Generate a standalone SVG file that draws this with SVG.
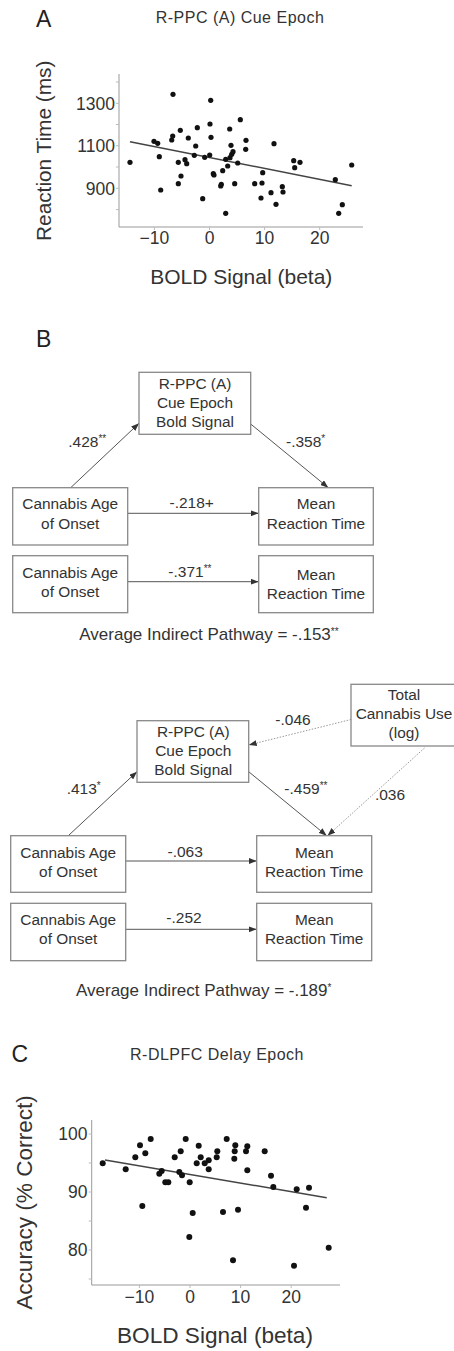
<svg xmlns="http://www.w3.org/2000/svg" width="454" height="1351" viewBox="0 0 454 1351">
<style>
text{font-family:"Liberation Sans",Arial,sans-serif;fill:#333}
.pl{font-size:23px;fill:#222}
.ti{font-size:16px;letter-spacing:0.5px;text-anchor:middle}
.tk{font-size:17.5px}
.ax{stroke:#999;stroke-width:1;fill:none}
.tm{stroke:#bbb;stroke-width:1}
.rl{stroke:#444;stroke-width:1.5;fill:none}
.d{fill:#111}
.box{fill:#fff;stroke:#888;stroke-width:1.3}
.bt{font-size:15.4px;text-anchor:middle}
.lb{font-size:15.5px}
.st{font-size:10px}
.ar{stroke:#555;stroke-width:1;fill:none}
.dt{stroke:#999;stroke-width:1;stroke-dasharray:1.5 1.5;fill:none}
.avg{font-size:17px}
</style>
<defs>
<marker id="ah" markerWidth="8" markerHeight="6" refX="8" refY="3" orient="auto" markerUnits="userSpaceOnUse"><path d="M0,0 L8,3 L0,6 z" fill="#333"/></marker>
</defs>

<!-- Panel A -->
<g id="panelA">
<text class="pl" x="36" y="26.7">A</text>
<text class="ti" x="240" y="23">R-PPC (A) Cue Epoch</text>
<path class="ax" d="M119,74 V227 H363"/>
<g class="tm">
<path d="M116,103.3 H119 M116,124.5 H119 M116,145.7 H119 M116,167 H119 M116,188.3 H119 M116,209.6 H119 M116,82 H119"/>
<path d="M154.4,227 V230 M209.5,227 V230 M264.6,227 V230 M319.7,227 V230"/>
</g>
<g class="tk" text-anchor="end">
<text x="115" y="109.5">1300</text>
<text x="115" y="151.9">1100</text>
<text x="115" y="194.5">900</text>
</g>
<g class="tk" text-anchor="middle">
<text x="154.4" y="243.5">−10</text>
<text x="209.5" y="243.5">0</text>
<text x="264.6" y="243.5">10</text>
<text x="319.7" y="243.5">20</text>
</g>
<text transform="translate(51,150.8) rotate(-90)" text-anchor="middle" font-size="20.8">Reaction Time (ms)</text>
<text x="241.3" y="283.5" text-anchor="middle" font-size="21">BOLD Signal (beta)</text>
<line class="rl" x1="130" y1="141.7" x2="351.7" y2="185.7"/>
<g class="d">
<circle cx="130" cy="162.3" r="2.6"/><circle cx="173" cy="94.3" r="2.6"/><circle cx="210.7" cy="100.3" r="2.6"/><circle cx="154" cy="141.3" r="2.6"/><circle cx="157.7" cy="143.3" r="2.6"/><circle cx="159.3" cy="156.7" r="2.6"/><circle cx="160.7" cy="190" r="2.6"/><circle cx="171.7" cy="140" r="2.6"/><circle cx="172.7" cy="136" r="2.6"/><circle cx="180.3" cy="130.3" r="2.6"/><circle cx="178.3" cy="162.3" r="2.6"/><circle cx="181" cy="176" r="2.6"/><circle cx="178.3" cy="183.7" r="2.6"/><circle cx="185" cy="159.7" r="2.6"/><circle cx="186.7" cy="163.7" r="2.6"/><circle cx="188.3" cy="138" r="2.6"/><circle cx="195.7" cy="146" r="2.6"/><circle cx="197.3" cy="127.7" r="2.6"/><circle cx="194.3" cy="155.3" r="2.6"/><circle cx="204.7" cy="157.3" r="2.6"/><circle cx="202.7" cy="198.7" r="2.6"/><circle cx="210" cy="124" r="2.6"/><circle cx="211" cy="137.3" r="2.6"/><circle cx="209.7" cy="155" r="2.6"/><circle cx="213.3" cy="173.7" r="2.6"/><circle cx="214" cy="175" r="2.6"/><circle cx="220.7" cy="186" r="2.6"/><circle cx="221.3" cy="184.3" r="2.6"/><circle cx="222.7" cy="170.7" r="2.6"/><circle cx="225.7" cy="159.3" r="2.6"/><circle cx="227.7" cy="166" r="2.6"/><circle cx="229.7" cy="129" r="2.6"/><circle cx="230" cy="157.7" r="2.6"/><circle cx="231.7" cy="154.3" r="2.6"/><circle cx="231" cy="145.3" r="2.6"/><circle cx="233" cy="151.7" r="2.6"/><circle cx="225.7" cy="213.3" r="2.6"/><circle cx="234.7" cy="183.7" r="2.6"/><circle cx="237.7" cy="163" r="2.6"/><circle cx="240.3" cy="119.7" r="2.6"/><circle cx="246" cy="140.3" r="2.6"/><circle cx="245.7" cy="149.3" r="2.6"/><circle cx="254.7" cy="183.7" r="2.6"/><circle cx="262.7" cy="172.7" r="2.6"/><circle cx="262" cy="183" r="2.6"/><circle cx="261" cy="198" r="2.6"/><circle cx="271" cy="192.7" r="2.6"/><circle cx="274" cy="143.7" r="2.6"/><circle cx="276" cy="204.3" r="2.6"/><circle cx="282.3" cy="186.7" r="2.6"/><circle cx="283" cy="192" r="2.6"/><circle cx="293.7" cy="160.7" r="2.6"/><circle cx="294.7" cy="167.7" r="2.6"/><circle cx="300" cy="162.3" r="2.6"/><circle cx="335.3" cy="179.7" r="2.6"/><circle cx="338.7" cy="213.3" r="2.6"/><circle cx="342.3" cy="204.7" r="2.6"/><circle cx="351.7" cy="165" r="2.6"/>
</g>
</g>

<!-- Panel B -->
<text class="pl" x="36" y="346.7">B</text>

<g id="connectors">
<line class="ar" x1="70.7" y1="487.7" x2="139" y2="423.3" marker-end="url(#ah)"/>
<line class="ar" x1="250.7" y1="424" x2="328.3" y2="487.7" marker-end="url(#ah)"/>
<line class="ar" x1="127.7" y1="513.3" x2="258.7" y2="513.3" marker-end="url(#ah)"/>
<line class="ar" x1="127.7" y1="581.7" x2="258.7" y2="581.7" marker-end="url(#ah)"/>
<line class="ar" x1="68.3" y1="835.7" x2="137" y2="771.7" marker-end="url(#ah)"/>
<line class="ar" x1="248.7" y1="771.7" x2="326.7" y2="835.7" marker-end="url(#ah)"/>
<line class="dt" x1="351" y1="719.5" x2="248.7" y2="745" marker-end="url(#ah)"/>
<line class="dt" x1="424.5" y1="748" x2="327.5" y2="835.7" marker-end="url(#ah)"/>
<line class="ar" x1="125.7" y1="861" x2="256.7" y2="861" marker-end="url(#ah)"/>
<line class="ar" x1="125.7" y1="929.3" x2="256.7" y2="929.3" marker-end="url(#ah)"/>
</g>

<g id="edge-labels">
<text class="lb" x="68.3" y="446.7">.428<tspan class="st" dy="-5">**</tspan></text>
<text class="lb" x="286" y="446.7">-.358<tspan class="st" dy="-5">*</tspan></text>
<text class="lb" x="191.7" y="508.3" text-anchor="middle">-.218+</text>
<text class="lb" x="168.3" y="576.7">-.371<tspan class="st" dy="-5">**</tspan></text>
<text class="lb" x="293" y="725" text-anchor="middle">-.046</text>
<text class="lb" x="66.7" y="794.3">.413<tspan class="st" dy="-5">*</tspan></text>
<text class="lb" x="284.3" y="793.5">-.459<tspan class="st" dy="-5">**</tspan></text>
<text class="lb" x="390" y="800" text-anchor="middle">.036</text>
<text class="lb" x="185.2" y="856.7" text-anchor="middle">-.063</text>
<text class="lb" x="184" y="923.3" text-anchor="middle">-.252</text>
</g>

<g id="m1-rppc">
<rect class="box" x="139" y="372.3" width="111.7" height="62"/>
<text class="bt" x="195" y="388.5">R-PPC (A)</text>
<text class="bt" x="195" y="407.5">Cue Epoch</text>
<text class="bt" x="195" y="426.7">Bold Signal</text>
</g>
<g id="m1-onset">
<rect class="box" x="12.7" y="487.7" width="115" height="57.3"/>
<text class="bt" x="70.2" y="509.3">Cannabis Age</text>
<text class="bt" x="70.2" y="528.7">of Onset</text>
</g>
<g id="m1-rt">
<rect class="box" x="258.7" y="487.7" width="114.6" height="57.3"/>
<text class="bt" x="316" y="509.3">Mean</text>
<text class="bt" x="316" y="528.7">Reaction Time</text>
</g>
<g id="t1-onset">
<rect class="box" x="12.7" y="555.7" width="115" height="57"/>
<text class="bt" x="70.2" y="577.7">Cannabis Age</text>
<text class="bt" x="70.2" y="596.7">of Onset</text>
</g>
<g id="t1-rt">
<rect class="box" x="258.7" y="555.7" width="114.6" height="57"/>
<text class="bt" x="316" y="579.5">Mean</text>
<text class="bt" x="316" y="598.5">Reaction Time</text>
</g>
<text class="avg" x="79.3" y="640">Average Indirect Pathway = -.153<tspan class="st" font-size="11" dy="-5">**</tspan></text>

<g id="m2-total">
<rect class="box" x="351" y="684.3" width="110" height="61.7"/>
<text class="bt" x="404" y="700">Total</text>
<text class="bt" x="404" y="719.3">Cannabis Use</text>
<text class="bt" x="404" y="738.3">(log)</text>
</g>
<g id="m2-rppc">
<rect class="box" x="137" y="720.7" width="111.7" height="61.6"/>
<text class="bt" x="193.3" y="736.7">R-PPC (A)</text>
<text class="bt" x="193.3" y="755.7">Cue Epoch</text>
<text class="bt" x="193.3" y="775">Bold Signal</text>
</g>
<g id="m2-onset">
<rect class="box" x="10.7" y="835.7" width="115" height="56.6"/>
<text class="bt" x="68.2" y="857.7">Cannabis Age</text>
<text class="bt" x="68.2" y="876.7">of Onset</text>
</g>
<g id="m2-rt">
<rect class="box" x="256.7" y="835.7" width="115" height="56.6"/>
<text class="bt" x="314.2" y="857.7">Mean</text>
<text class="bt" x="314.2" y="876.7">Reaction Time</text>
</g>
<g id="t2-onset">
<rect class="box" x="10.7" y="903.3" width="115" height="57.4"/>
<text class="bt" x="68.2" y="925">Cannabis Age</text>
<text class="bt" x="68.2" y="944.3">of Onset</text>
</g>
<g id="t2-rt">
<rect class="box" x="256.7" y="903.3" width="115" height="57.4"/>
<text class="bt" x="314.2" y="925">Mean</text>
<text class="bt" x="314.2" y="944.3">Reaction Time</text>
</g>
<text class="avg" x="76" y="996">Average Indirect Pathway = -.189<tspan class="st" font-size="11" dy="-5">*</tspan></text>

<!-- Panel C -->
<g id="panelC">
<text class="pl" x="11.5" y="1062">C</text>
<text class="ti" x="217" y="1060">R-DLPFC Delay Epoch</text>
<path class="ax" d="M91.7,1120 V1285 H340"/>
<g class="tm">
<path d="M88.7,1134 H91.7 M88.7,1163 H91.7 M88.7,1192 H91.7 M88.7,1221 H91.7 M88.7,1250 H91.7 M88.7,1279 H91.7"/>
<path d="M139.4,1285 V1288 M190,1285 V1288 M240.6,1285 V1288 M291.2,1285 V1288"/>
</g>
<g class="tk" text-anchor="end">
<text x="87.5" y="1140.2">100</text>
<text x="87.5" y="1198.2">90</text>
<text x="87.5" y="1256.2">80</text>
</g>
<g class="tk" text-anchor="middle">
<text x="139.4" y="1302.5">−10</text>
<text x="190" y="1302.5">0</text>
<text x="240.6" y="1302.5">10</text>
<text x="291.2" y="1302.5">20</text>
</g>
<text transform="translate(31.5,1202.5) rotate(-90)" text-anchor="middle" font-size="22.6">Accuracy (% Correct)</text>
<text x="215" y="1343" text-anchor="middle" font-size="22.6">BOLD Signal (beta)</text>
<line class="rl" x1="105" y1="1160" x2="326.7" y2="1197.7"/>
<g class="d">
<circle cx="102.7" cy="1163.3" r="3"/><circle cx="125.7" cy="1169.3" r="3"/><circle cx="135.3" cy="1157.3" r="3"/><circle cx="140" cy="1145.3" r="3"/><circle cx="145.3" cy="1153.3" r="3"/><circle cx="150.7" cy="1139" r="3"/><circle cx="142.3" cy="1206" r="3"/><circle cx="159.3" cy="1173.7" r="3"/><circle cx="161.7" cy="1171" r="3"/><circle cx="165.3" cy="1182.3" r="3"/><circle cx="168.3" cy="1182.3" r="3"/><circle cx="174.7" cy="1157.3" r="3"/><circle cx="180.7" cy="1151.3" r="3"/><circle cx="179.3" cy="1172" r="3"/><circle cx="182" cy="1175.3" r="3"/><circle cx="185.7" cy="1139" r="3"/><circle cx="189.7" cy="1182.3" r="3"/><circle cx="192.7" cy="1213" r="3"/><circle cx="189.3" cy="1237" r="3"/><circle cx="196.7" cy="1163.3" r="3"/><circle cx="198.7" cy="1145.7" r="3"/><circle cx="200.7" cy="1157.3" r="3"/><circle cx="204.7" cy="1163.3" r="3"/><circle cx="208.7" cy="1160.3" r="3"/><circle cx="208.7" cy="1169.3" r="3"/><circle cx="216.7" cy="1157.3" r="3"/><circle cx="217.3" cy="1151.3" r="3"/><circle cx="223" cy="1212" r="3"/><circle cx="226.7" cy="1139" r="3"/><circle cx="234.3" cy="1158.7" r="3"/><circle cx="234.7" cy="1151.3" r="3"/><circle cx="235.3" cy="1145.3" r="3"/><circle cx="238" cy="1209.7" r="3"/><circle cx="233" cy="1260.3" r="3"/><circle cx="246" cy="1151.3" r="3"/><circle cx="247.3" cy="1146.3" r="3"/><circle cx="247.3" cy="1170.3" r="3"/><circle cx="264.7" cy="1151.3" r="3"/><circle cx="271" cy="1175.7" r="3"/><circle cx="273.3" cy="1187" r="3"/><circle cx="296.7" cy="1189.3" r="3"/><circle cx="306" cy="1207.7" r="3"/><circle cx="309" cy="1187.7" r="3"/><circle cx="294" cy="1265.7" r="3"/><circle cx="328.7" cy="1247.7" r="3"/>
</g>
</g>
</svg>
